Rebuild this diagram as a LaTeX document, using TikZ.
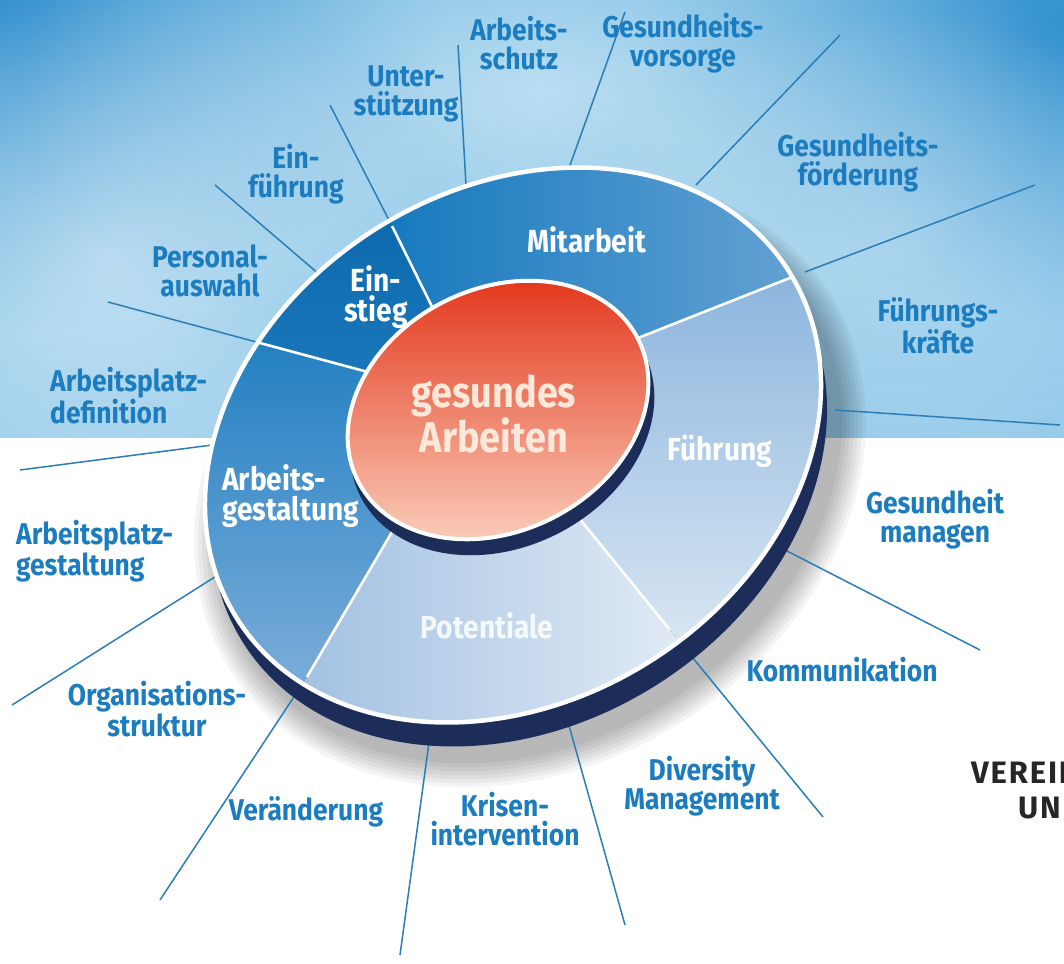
\documentclass[tikz,border=0pt]{standalone}
\usepackage{fontspec}
\newfontfamily\labelfont{Fira Sans}[FakeStretch=0.88]
\newfontfamily\logofont{Fira Sans}[LetterSpace=6]
\usetikzlibrary{fadings}

\definecolor{skytop}{HTML}{6DB8E2}
\definecolor{skybottom}{HTML}{94CAEA}
\definecolor{skydeep}{HTML}{2286C9}
\definecolor{lblblue}{HTML}{1B7CBF}
\definecolor{spokeblue}{HTML}{2B7DB6}
\definecolor{rimnavy}{HTML}{1C2D5A}
\definecolor{einA}{HTML}{0C69AD}
\definecolor{einB}{HTML}{1A78BB}
\definecolor{mitA}{HTML}{1579BE}
\definecolor{mitB}{HTML}{6AA5D5}
\definecolor{fuhA}{HTML}{8AB4DD}
\definecolor{fuhB}{HTML}{D7E5F2}
\definecolor{potA}{HTML}{A2C1E2}
\definecolor{potB}{HTML}{E2EBF5}
\definecolor{agA}{HTML}{2380C2}
\definecolor{agB}{HTML}{7CADD9}
\definecolor{redA}{HTML}{E3381D}
\definecolor{redM}{HTML}{EE7150}
\definecolor{redB}{HTML}{FBD5C3}
\definecolor{centertext}{HTML}{FDE8DA}

\tikzfading[name=blob, inner color=transparent!0, outer color=transparent!100]

% disc geometry (pixel coordinates, y downwards)
\def\OuterFace{(513,445) ellipse [x radius=326, y radius=256, rotate=32]}
\def\OuterBase{(519,469) ellipse [x radius=326, y radius=256, rotate=32]}
\def\InnerFace{(498,410) ellipse [x radius=157, y radius=121, rotate=27]}
\def\InnerBase{(502,424) ellipse [x radius=159, y radius=123, rotate=27]}

\begin{document}
\begin{tikzpicture}[x=1pt, y=-1pt,
  lbl/.style={font=\labelfont\bfseries\fontsize{30}{29}\selectfont, text=lblblue, align=center, inner sep=0pt},
  seglbl/.style={font=\labelfont\bfseries\fontsize{32}{30}\selectfont, text=white, align=center, inner sep=0pt},
  hublbl/.style={font=\labelfont\bfseries\fontsize{43}{40}\selectfont, text=centertext, align=center, inner sep=0pt},
  logo/.style={font=\logofont\bfseries\fontsize{31}{31}\selectfont, text=black!85, inner sep=0pt},
  spoke/.style={draw=spokeblue, line width=1.5pt},
  divider/.style={draw=white, line width=2.6pt},
]
\useasboundingbox (0,0) rectangle (1064,963);
\clip (0,0) rectangle (1064,963);

% ---------- background: sky above, white below ----------
\fill[white] (0,0) rectangle (1064,963);
\begin{scope}
  \clip (0,0) rectangle (1064,437);
  \shade[top color=skytop, bottom color=skybottom] (0,0) rectangle (1064,437);
  \fill[skydeep, opacity=.85, path fading=blob] (0,0) ellipse [x radius=440, y radius=330];
  \fill[skydeep, opacity=.75, path fading=blob] (1064,20) ellipse [x radius=420, y radius=300];
  \fill[white, opacity=.5, path fading=blob] (540,90) ellipse [x radius=520, y radius=260];
  \fill[white, opacity=.5, path fading=blob] (110,260) ellipse [x radius=330, y radius=300];
  \fill[white, opacity=.35, path fading=blob] (900,250) ellipse [x radius=320, y radius=240];
\end{scope}

% ---------- text block at the lower right (runs off the right edge) ----------
\node[logo, anchor=base west] (verein) at (971,783) {VEREIN};
\node[logo, anchor=base west] (und) at (1018,818) {UN};

% ---------- soft shadow of the disc ----------
\foreach \k in {1,...,7}
  \fill[black, opacity=.045] (530,482) ellipse [x radius=326+4*\k, y radius=256+4*\k, rotate=32];

% ---------- named points: dividers and spokes ----------
\coordinate (O) at (498,410);
\coordinate (d1s) at (453,349);  \coordinate (d1o) at (392,226);  \coordinate (d1f) at (269,-20);
\coordinate (d2s) at (557,370);  \coordinate (d2o) at (805,272);  \coordinate (d2f) at (1300,77);
\coordinate (d3s) at (540,470);  \coordinate (d3o) at (670,630);  \coordinate (d3f) at (931,951);
\coordinate (d4s) at (416,491);  \coordinate (d4o) at (307,677);  \coordinate (d4f) at (88,1049);
\coordinate (d5s) at (420,386);  \coordinate (d5o) at (260,343);  \coordinate (d5f) at (-61,256);
\coordinate (e1) at (330,105);
\coordinate (e2) at (1035,185);
\coordinate (e3) at (823,817);
\coordinate (e4) at (160,900);
\coordinate (e5) at (108,302);
\coordinate (sa) at (466,185);  \coordinate (sae) at (458,45);
\coordinate (sb) at (569,168);  \coordinate (sbe) at (625,12);
\coordinate (sc) at (696,185);  \coordinate (sce) at (840,35);
\coordinate (sd) at (320,275);  \coordinate (sde) at (215,185);
\coordinate (se) at (212,445);  \coordinate (see) at (20,470);
\coordinate (sf) at (218,575);  \coordinate (sfe) at (12,705);
\coordinate (sg) at (430,735);  \coordinate (sge) at (400,955);
\coordinate (sh) at (568,722);  \coordinate (she) at (625,925);
\coordinate (si) at (785,550);  \coordinate (sie) at (980,650);
\coordinate (sj) at (835,410);  \coordinate (sje) at (1060,425);

% ---------- spokes ----------
\draw[spoke] (d1o) -- (e1);
\draw[spoke] (d2o) -- (e2);
\draw[spoke] (d3o) -- (e3);
\draw[spoke] (d4o) -- (e4);
\draw[spoke] (d5o) -- (e5);
\draw[spoke] (sa) -- (sae);
\draw[spoke] (sb) -- (sbe);
\draw[spoke] (sc) -- (sce);
\draw[spoke] (sd) -- (sde);
\draw[spoke] (se) -- (see);
\draw[spoke] (sf) -- (sfe);
\draw[spoke] (sg) -- (sge);
\draw[spoke] (sh) -- (she);
\draw[spoke] (si) -- (sie);
\draw[spoke] (sj) -- (sje);

% ---------- outer disc ----------
\fill[rimnavy] \OuterBase;
\begin{scope}
  \clip \OuterFace;
  % Mitarbeit
  \begin{scope}
    \clip (d1s) -- (d1f) -- (d2f) -- (d2s) -- (O) -- cycle;
    \shade[left color=mitA, right color=mitB] (380,160) rectangle (835,350);
  \end{scope}
  % Fuehrung
  \begin{scope}
    \clip (d2s) -- (d2f) -- (d3f) -- (d3s) -- (O) -- cycle;
    \shade[top color=fuhA, bottom color=fuhB] (560,265) rectangle (840,640);
  \end{scope}
  % Potentiale
  \begin{scope}
    \clip (d3s) -- (d3f) -- (d4f) -- (d4s) -- (O) -- cycle;
    \shade[left color=potA, right color=potB] (300,500) rectangle (690,720);
  \end{scope}
  % Arbeitsgestaltung
  \begin{scope}
    \clip (d4s) -- (d4f) -- (d5f) -- (d5s) -- (O) -- cycle;
    \shade[top color=agA, bottom color=agB] (205,340) rectangle (420,690);
  \end{scope}
  % Einstieg
  \begin{scope}
    \clip (d5s) -- (d5f) -- (d1f) -- (d1s) -- (O) -- cycle;
    \shade[top color=einA, bottom color=einB] (250,210) rectangle (460,390);
  \end{scope}
  \draw[divider] (d1s) -- (d1o);
  \draw[divider] (d2s) -- (d2o);
  \draw[divider] (d3s) -- (d3o);
  \draw[divider] (d4s) -- (d4o);
  \draw[divider] (d5s) -- (d5o);
\end{scope}
\draw[white, line width=4.5pt] \OuterFace;

% ---------- hub ----------
\fill[rimnavy] \InnerBase;
\shade[top color=redA, middle color=redM, bottom color=redB] \InnerFace;
\draw[white, line width=4pt] \InnerFace;

% ---------- labels on the disc ----------
\node[hublbl] (hub) at (494,414) {gesundes\\Arbeiten};
\node[seglbl] (mitarbeit) at (587,240) {Mitarbeit};
\node[seglbl] (einstieg) at (376,297) {Ein-\\stieg};
\node[seglbl, align=left, anchor=west] (gestaltung) at (222,496) {Arbeits-\\gestaltung};
\node[seglbl] (fuehrung) at (720,451) {Führung};
\node[seglbl, text opacity=.85] (potentiale) at (487,626) {Potentiale};

% ---------- labels around the disc ----------
\node[lbl] (schutz) at (519,43) {Arbeits-\\schutz};
\node[lbl] (vorsorge) at (683,43) {Gesundheits-\\vorsorge};
\node[lbl] (unterst) at (406,94) {Unter-\\stützung};
\node[lbl] (foerd) at (858,162) {Gesundheits-\\förderung};
\node[lbl] (einf) at (296,174) {Ein-\\führung};
\node[lbl] (perso) at (210,271) {Personal-\\auswahl};
\node[lbl] (fkraft) at (938,326) {Führungs-\\kräfte};
\node[lbl, align=left, anchor=west] (apdef) at (50,396) {Arbeitsplatz-\\definition};
\node[lbl, align=left, anchor=west] (apgest) at (16,551) {Arbeitsplatz-\\gestaltung};
\node[lbl] (gmanag) at (935,519) {Gesundheit\\managen};
\node[lbl] (komm) at (842,670) {Kommunikation};
\node[lbl] (orga) at (157,709) {Organisations-\\struktur};
\node[lbl] (divers) at (702,786) {Diversity\\Management};
\node[lbl] (veraend) at (306,812) {Veränderung};
\node[lbl] (krise) at (505,819) {Krisen-\\intervention};
\end{tikzpicture}
\end{document}
